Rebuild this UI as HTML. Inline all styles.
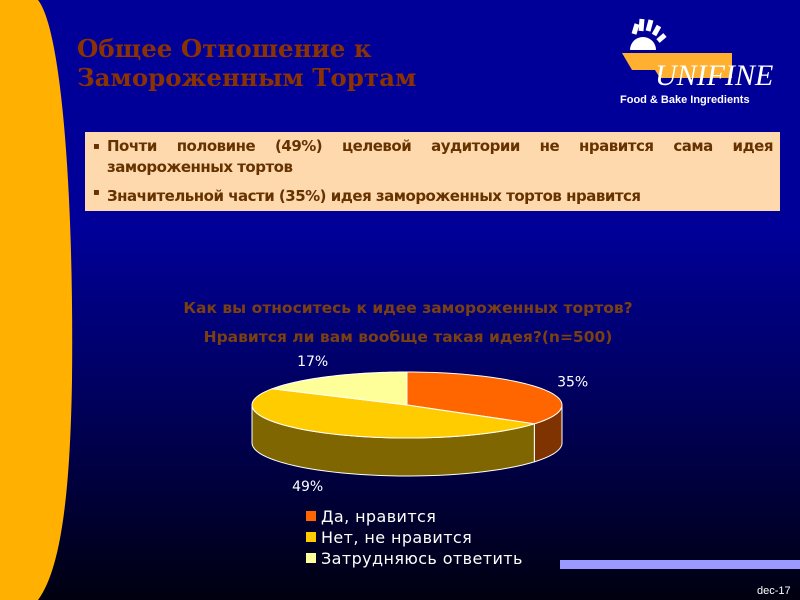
<!DOCTYPE html>
<html><head><meta charset="utf-8"><style>
body{margin:0;width:800px;height:600px;overflow:hidden;font-family:"Liberation Sans","DejaVu Sans",sans-serif}
#slide{position:relative;width:800px;height:600px;background:linear-gradient(to bottom,#000099 0%,#000099 38%,#000060 65%,#000010 100%)}
.t{position:absolute;white-space:nowrap}
</style></head><body>
<div id="slide">
<svg width="800" height="600" style="position:absolute;left:0;top:0">
<path d="M0,0 L38,0 C62,30 74,200 72,380 C70,500 60,570 38,600 L0,600 Z" fill="#FFB000"/>
<rect x="560" y="560" width="240" height="9" fill="#9999FF"/>
<g>
<path d="M622,53 L732,53 L732,78 L660,78 L655,70 L632,70 Z" fill="#FFB030"/>
<path d="M630,50 A13,13 0 0 1 656,50 Z" fill="#fff"/>
<path d="M634,34 l3,-10 M641,31 l1,-12 M648,31 l3,-11 M654,35 l5,-9 M658,41 l7,-6" stroke="#fff" stroke-width="5"/>
<text x="655" y="85" font-family="Liberation Serif,serif" font-style="italic" font-size="30" fill="#fff">UNIFINE</text>
<text x="620" y="103" font-size="11" font-weight="bold" fill="#fff">Food &amp; Bake Ingredients</text>
</g>
</svg>
<div class="t" style="left:77px;top:34px;font-family:'DejaVu Serif',serif;font-weight:bold;font-size:24.5px;line-height:29px;color:#8B3300">Общее Отношение к<br>Замороженным Тортам</div>
<div style="position:absolute;left:85px;top:132px;width:695px;height:79px;background:#FFD9AE;color:#663300;font-size:15px;font-weight:bold;font-family:'DejaVu Sans',sans-serif;letter-spacing:-0.5px">
<div style="position:absolute;left:8px;top:4px;width:680px;line-height:21px;text-align:justify;padding-left:14px;box-sizing:border-box"><span style="position:absolute;left:0;font-size:10px">▪</span>Почти половине (49%) целевой аудитории не нравится сама идея замороженных тортов</div>
<div style="position:absolute;left:8px;top:55px;padding-left:14px"><span style="position:absolute;left:0;font-size:10px">▪</span>Значительной части (35%) идея замороженных тортов нравится</div>
</div>
<div class="t" style="left:0;width:816px;text-align:center;top:294px;font-family:'DejaVu Sans',sans-serif;font-weight:bold;font-size:15.5px;line-height:29px;color:#7A4010">Как вы относитесь к идее замороженных тортов?<br>Нравится ли вам вообще такая идея?(n=500)</div>
<svg id="chart" width="800" height="600" style="position:absolute;left:0;top:0"></svg>
<div class="t" style="left:757px;top:585px;font-size:11px;color:#fff">dec-17</div>
</div>
<script>
const categories=["Да, нравится","Нет, не нравится","Затрудняюсь ответить"];
const values=[35,49,17];
const labels=["35%","49%","17%"];
const topColors=["#FF6600","#FFCC00","#FFFF99"];
const sideColors=["#7F3300","#806600","#80804C"];
const svg=document.getElementById('chart');
const NS='http://www.w3.org/2000/svg';
const cx=407,cy=405,rx=155,ry=33,depth=38;
const total=values.reduce((a,b)=>a+b,0);
function pt(t,dy){return [cx+rx*Math.sin(t),cy-ry*Math.cos(t)+(dy||0)];}
function mk(tag,attrs){const e=document.createElementNS(NS,tag);for(const k in attrs)e.setAttribute(k,attrs[k]);svg.appendChild(e);return e;}
let angles=[0];values.forEach(v=>angles.push(angles[angles.length-1]+v/total*2*Math.PI));
values.forEach((v,i)=>{
  const a0=Math.max(angles[i],Math.PI/2),a1=Math.min(angles[i+1],3*Math.PI/2);
  if(a1<=a0)return;
  let d='';const n=40;
  for(let k=0;k<=n;k++){const p=pt(a0+(a1-a0)*k/n);d+=(k?'L':'M')+p[0]+','+p[1];}
  for(let k=n;k>=0;k--){const p=pt(a0+(a1-a0)*k/n,depth);d+='L'+p[0]+','+p[1];}
  const e=mk('path',{d:d+'Z',fill:sideColors[i],stroke:'#fff','stroke-width':1});
  
  
});
values.forEach((v,i)=>{
  const a0=angles[i],a1=angles[i+1];let d='M'+cx+','+cy;const n=60;
  for(let k=0;k<=n;k++){const p=pt(a0+(a1-a0)*k/n);d+='L'+p[0]+','+p[1];}
  const e=mk('path',{d:d+'Z',fill:topColors[i],stroke:'#fff','stroke-width':1});
  
  
});
values.forEach((v,i)=>{
  const m=(angles[i]+angles[i+1])/2;
  const x=cx+(rx+32)*Math.sin(m),y=cy-(ry+18)*Math.cos(m)+(Math.cos(m)<0?depth:0)+5;
  const t=mk('text',{x:x,y:y,'text-anchor':'middle','font-size':14,fill:'#fff','font-family':'DejaVu Sans,sans-serif'});
  t.textContent=labels[i];
  
  
});
categories.forEach((c,i)=>{
  const y=511+i*21;
  const r=mk('rect',{x:306,y:y,width:10,height:10,fill:topColors[i]});
  
  
  const t=mk('text',{x:321,y:y+11,'font-size':16,'letter-spacing':0.4,fill:'#fff','font-family':'DejaVu Sans,sans-serif'});
  t.textContent=c;
  
  
});
</script>
</body></html>
